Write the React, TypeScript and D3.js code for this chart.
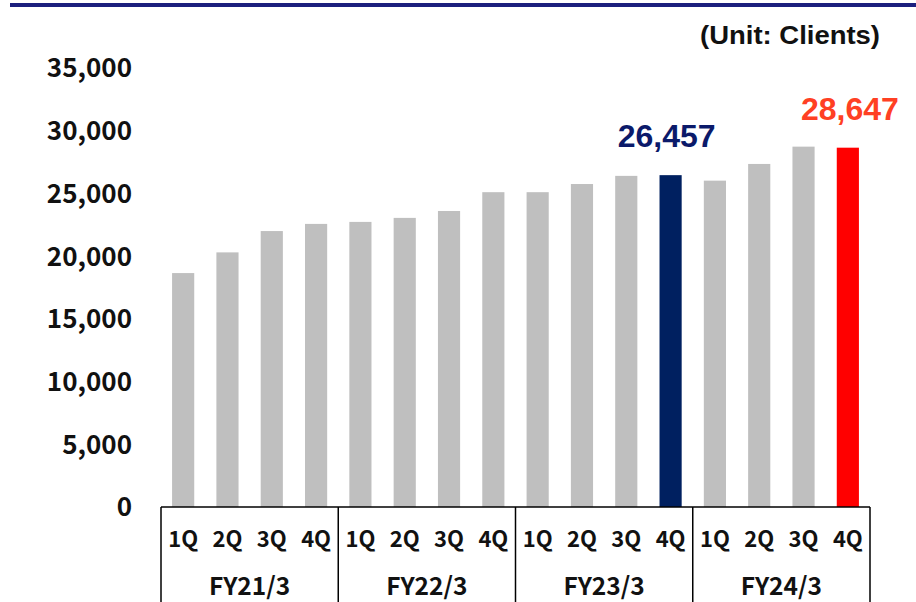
import React from "react";
import * as d3 from "d3";

const years = ["FY21/3", "FY22/3", "FY23/3", "FY24/3"];
const quarters = ["1Q", "2Q", "3Q", "4Q"];
const values = [
  18650, 20300, 22000, 22570,
  22730, 23050, 23600, 25100,
  25100, 25750, 26400, 26457,
  26020, 27350, 28730, 28647,
];
const yTicks = [0, 5000, 10000, 15000, 20000, 25000, 30000, 35000];
const highlight: Record<number, { bar: string; label: string }> = {
  11: { bar: "#002060", label: "#0b1a6a" },
  15: { bar: "#ff0000", label: "#ff4023" },
};

const W = 916;
const H = 602;
const left = 161;
const right = 870;
const bottom = 507;
const top = 68;

export default function App() {
  const x = d3
    .scaleBand<number>()
    .domain(d3.range(values.length))
    .range([left, right])
    .paddingInner(0.5)
    .paddingOuter(0.25);
  const y = d3.scaleLinear().domain([0, 35000]).range([bottom, top]);
  const fmt = d3.format(",");
  const step = (right - left) / values.length;
  const jp = "'Noto Sans CJK JP', 'Noto Sans', sans-serif";
  const ar = "'Liberation Sans', Arial, sans-serif";

  return (
    <svg width={W} height={H} style={{ position: "absolute", left: 0, top: 0 }}>
      <rect x={0} y={0} width={W} height={H} fill="#fff" />
      <rect x={10} y={3} width={W - 10} height={4} fill="#1c1f7e" />
      <text x={880} y={44} textAnchor="end" fontFamily={ar} fontWeight="bold" fontSize={26} textLength={180} lengthAdjust="spacingAndGlyphs" fill="#111">
        (Unit: Clients)
      </text>
      {yTicks.map((t) => (
        <text key={t} x={132} y={y(t)} dy="0.36em" textAnchor="end" fontFamily={jp} fontWeight="bold" fontSize={26} fill="#111">
          {fmt(t)}
        </text>
      ))}
      {values.map((v, i) => (
        <rect
          key={i}
          x={x(i)}
          y={y(v)}
          width={x.bandwidth()}
          height={bottom - y(v)}
          fill={highlight[i] ? highlight[i].bar : "#bfbfbf"}
        />
      ))}
      {values.map((v, i) =>
        highlight[i] ? (
          <text
            key={"l" + i}
            x={x(i)! + x.bandwidth() / 2 + (i === 11 ? -4 : 2)}
            y={y(v) - 28}
            textAnchor="middle"
            fontFamily={ar}
            fontWeight="bold"
            fontSize={32}
            fill={highlight[i].label}
          >
            {fmt(v)}
          </text>
        ) : null
      )}
      <line x1={left} x2={right} y1={bottom} y2={bottom} stroke="#000" strokeWidth={1.5} />
      {d3.range(years.length + 1).map((k) => (
        <line key={"s" + k} x1={left + k * 4 * step} x2={left + k * 4 * step} y1={bottom} y2={H} stroke="#000" strokeWidth={1.5} />
      ))}
      {values.map((_, i) => (
        <text key={"q" + i} x={x(i)! + x.bandwidth() / 2} y={539} dy="0.36em" textAnchor="middle" fontFamily={jp} fontWeight="bold" fontSize={22} fill="#111">
          {quarters[i % 4]}
        </text>
      ))}
      {years.map((yr, k) => (
        <text key={yr} x={left + (k * 4 + 2) * step} y={586} dy="0.36em" textAnchor="middle" fontFamily={jp} fontWeight="bold" fontSize={24.5} fill="#111">
          {yr}
        </text>
      ))}
    </svg>
  );
}
